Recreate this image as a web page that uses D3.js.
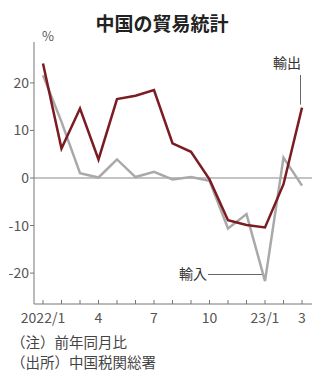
<!DOCTYPE html>
<html>
<head>
<meta charset="utf-8">
<script src="https://cdn.jsdelivr.net/npm/d3@7"></script>
<style>
  body { margin: 0; background: #fff; }
  text { font-family: "Noto Sans CJK JP", "Noto Sans", sans-serif; }
</style>
</head>
<body>
<svg id="chart" width="332" height="377"></svg>
<script>
// months 2022/1 .. 2023/3
const months = ["22-1","22-2","22-3","22-4","22-5","22-6","22-7","22-8","22-9","22-10","22-11","22-12","23-1","23-2","23-3"];
const monthLabels = ["2022/1","","","4","","","7","","","10","","","23/1","","3"];
const exports = [24.1, 6.2, 14.6, 3.9, 16.6, 17.3, 18.5, 7.3, 5.5, -0.3, -8.9, -9.9, -10.4, -1.3, 14.8];
const imports = [21.6, 11.8, 1.0, 0.1, 3.9, 0.2, 1.3, -0.3, 0.2, -0.6, -10.6, -7.6, -21.7, 4.3, -1.6];
const yTicks = [20, 10, 0, -10, -20];

const svg = d3.select("#chart");

const x = d3.scalePoint().domain(months).range([43, 302]);
const y = d3.scaleLinear().domain([-26.5, 28.6]).range([304, 42]);

const left = 34, right = 312;

// title
svg.append("text")
    .attr("x", 162).attr("y", 31)
    .attr("text-anchor", "middle")
    .attr("font-size", 19).attr("font-weight", "bold")
    .attr("fill", "#222")
    .text("中国の貿易統計");

svg.append("text")
    .attr("x", 42).attr("y", 41)
    .attr("font-size", 13).attr("fill", "#555")
    .text("%");

// y axis
svg.append("line")
    .attr("x1", left).attr("x2", left)
    .attr("y1", y.range()[1]).attr("y2", y.range()[0])
    .attr("stroke", "#777").attr("stroke-width", 1);

const yt = svg.append("g").selectAll("g").data(yTicks).enter().append("g");
yt.append("line")
    .attr("x1", left - 4).attr("x2", left)
    .attr("y1", d => y(d)).attr("y2", d => y(d))
    .attr("stroke", "#777");
yt.append("text")
    .attr("x", left - 5).attr("y", d => y(d) + 5)
    .attr("text-anchor", "end")
    .attr("font-size", 14).attr("fill", "#555")
    .text(d => d);

// zero line
svg.append("line")
    .attr("x1", left).attr("x2", right)
    .attr("y1", y(0)).attr("y2", y(0))
    .attr("stroke", "#888").attr("stroke-width", 1);

// x axis
svg.append("line")
    .attr("x1", left).attr("x2", right)
    .attr("y1", y.range()[0]).attr("y2", y.range()[0])
    .attr("stroke", "#777");

const xt = svg.append("g").selectAll("g").data(months).enter().append("g");
xt.append("line")
    .attr("x1", d => x(d)).attr("x2", d => x(d))
    .attr("y1", y.range()[0] - 4).attr("y2", y.range()[0])
    .attr("stroke", "#777");
xt.append("text")
    .attr("x", d => x(d)).attr("y", 323)
    .attr("text-anchor", "middle")
    .attr("font-size", 14).attr("fill", "#555")
    .text((d, i) => monthLabels[i]);

// series
const line = d3.line().x((d, i) => x(months[i])).y(d => y(d));

svg.append("path")
    .datum(imports)
    .attr("d", line)
    .attr("fill", "none")
    .attr("stroke", "#a9a9a9").attr("stroke-width", 2.5)
    .attr("stroke-linejoin", "miter");

svg.append("path")
    .datum(exports)
    .attr("d", line)
    .attr("fill", "none")
    .attr("stroke", "#7a1c22").attr("stroke-width", 2.5)
    .attr("stroke-linejoin", "miter");

// labels with leader lines
svg.append("text")
    .attr("x", 287).attr("y", 68)
    .attr("text-anchor", "middle")
    .attr("font-size", 14).attr("fill", "#333")
    .text("輸出");
svg.append("line")
    .attr("x1", 300.5).attr("x2", 300.5)
    .attr("y1", 75).attr("y2", y(exports[14]) - 3)
    .attr("stroke", "#666");

svg.append("text")
    .attr("x", 179).attr("y", 279)
    .attr("font-size", 14).attr("fill", "#333")
    .text("輸入");
svg.append("line")
    .attr("x1", 208).attr("x2", 262)
    .attr("y1", 274.5).attr("y2", 274.5)
    .attr("stroke", "#666");

// footnotes
svg.append("text")
    .attr("x", 11).attr("y", 348)
    .attr("font-size", 14.5).attr("fill", "#444")
    .text("（注）前年同月比");
svg.append("text")
    .attr("x", 11).attr("y", 368)
    .attr("font-size", 14.5).attr("fill", "#444")
    .text("（出所）中国税関総署");
</script>
</body>
</html>
